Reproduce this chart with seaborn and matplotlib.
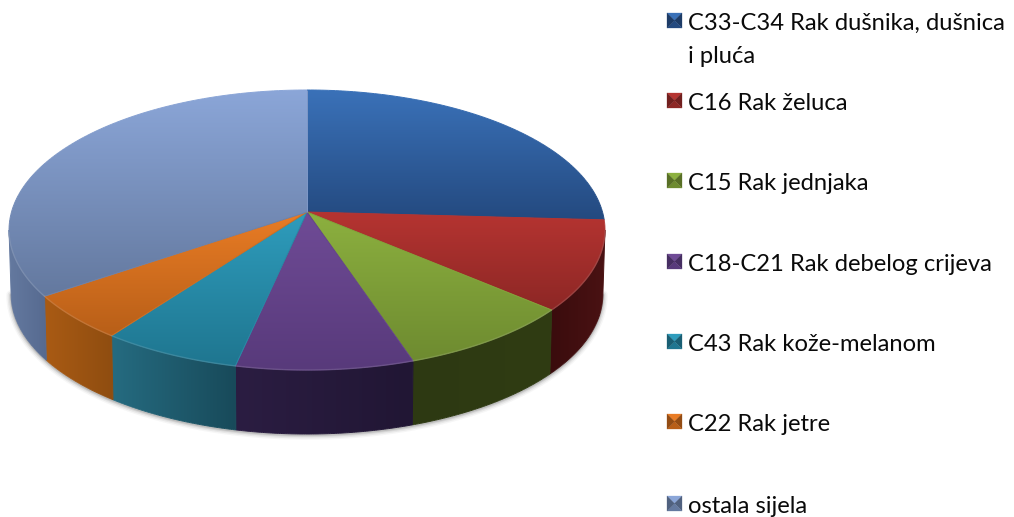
import matplotlib
matplotlib.use("Agg")

import numpy as np
import matplotlib.pyplot as plt
import seaborn as sns
from matplotlib.collections import LineCollection
from matplotlib.patches import Polygon

labels = [
    "C33-C34 Rak dušnika, dušnica\ni pluća",
    "C16 Rak želuca",
    "C15 Rak jednjaka",
    "C18-C21 Rak debelog crijeva",
    "C43 Rak kože-melanom",
    "C22 Rak jetre",
    "ostala sijela",
]
values = [25.9, 10.4, 8.6, 8.5, 6.7, 5.3, 34.6]

top_start = ["#3a71b8", "#b53431", "#8cb03f", "#6f4b96", "#2e9cbc", "#e97c25", "#8ba6d8"]
top_end = ["#244a80", "#8d2725", "#6e8b30", "#583a7b", "#1f7690", "#b85f18", "#64799f"]
wall_left = ["#1d3c68", "#3a0c0d", "#2d3912", "#2b1d42", "#256b80", "#aa5b14", "#64799f"]
wall_right = ["#1d3c68", "#4a1213", "#303c13", "#211634", "#184a5a", "#8f4d10", "#566a90"]

sns.set_theme(style="white")
plt.rcParams["font.family"] = ["Lato", "DejaVu Sans"]

# perspective of the pie disc, in pixels
cx, cy = 307, 212
sx, sy = 295.5, 137.7
k = 0.1286
depth = 64


def project(theta):
    u, v = np.sin(theta), -np.cos(theta)
    w = 1 - k * v
    return cx + sx * u / w, cy + sy * v / w


def gradient(ax, pts, start, end, horizontal=False):
    colors = np.array(sns.blend_palette([start, end], 64))
    img = colors[None, :, :] if horizontal else colors[:, None, :]
    x0, x1 = pts[:, 0].min(), pts[:, 0].max()
    y0, y1 = pts[:, 1].min(), pts[:, 1].max()
    im = ax.imshow(img, extent=(x0, x1, y1, y0), aspect="auto", interpolation="bilinear", zorder=3)
    clip = Polygon(pts, closed=True, fc="none", ec="none", transform=ax.transData)
    ax.add_patch(clip)
    im.set_clip_path(clip)

    # thin outline in the local gradient colour, hides the jagged clip edge
    closed = np.vstack([pts, pts[:1]])
    segs = np.stack([closed[:-1], closed[1:]], axis=1)
    axis = 0 if horizontal else 1
    pos = segs[:, :, axis].mean(axis=1)
    lo, hi = pts[:, axis].min(), pts[:, axis].max()
    idx = np.clip(((pos - lo) / max(hi - lo, 1) * 63).astype(int), 0, 63)
    ax.add_collection(LineCollection(segs, colors=colors[idx], linewidths=0.7, zorder=3))


fig = plt.figure(figsize=(10.14, 5.17), dpi=100)
ax = fig.add_axes([0, 0, 1, 1])

edges = np.radians(np.concatenate([[0], np.cumsum(values)]) / sum(values) * 360)
side = np.arccos(-k)

# soft shadow under the disc
t = np.linspace(side, 2 * np.pi - side, 300)
bx, by = project(t)
for lw, alpha in zip([7, 5, 3, 1.5], [0.04, 0.07, 0.1, 0.14]):
    ax.plot(cx + (bx - cx) * 0.993, by + depth + 1, color="#303030", lw=lw, alpha=alpha, zorder=1)

# side walls, only the part facing the viewer
for i in range(len(values)):
    a, b = max(edges[i], side), min(edges[i + 1], 2 * np.pi - side)
    if b <= a:
        continue
    t = np.linspace(a, b, 80)
    x, y = project(t)
    upper = np.column_stack([x, y])
    lower = np.column_stack([cx + (x - cx) * 0.993, y + depth])[::-1]
    gradient(ax, np.vstack([upper, lower]), wall_left[i], wall_right[i], horizontal=True)

# top surface
for i in range(len(values)):
    t = np.linspace(edges[i], edges[i + 1], 120)
    x, y = project(t)
    pts = np.vstack([[cx, cy], np.column_stack([x, y])])
    gradient(ax, pts, top_start[i], top_end[i])
    front = (t > side) & (t < 2 * np.pi - side)
    if front.any():
        ax.plot(x[front], y[front], color=sns.blend_palette([top_end[i], "#ffffff"], 5)[1],
                lw=1, alpha=0.5, zorder=4)

# legend
baselines = [30, 110, 190, 271, 351, 431, 513]
for i, label in enumerate(labels):
    base = baselines[i]
    for j, line in enumerate(label.split("\n")):
        ax.text(688, base + 33 * j, line, fontsize=17.1, color="#0a0a0a", va="baseline", ha="left", zorder=5)
    mx0, mx1 = 667, 682
    my0, my1 = base - 17, base - 2
    mcx, mcy = (mx0 + mx1) / 2, (my0 + my1) / 2
    corners = [(mx0, my0), (mx1, my0), (mx1, my1), (mx0, my1)]
    dark = sns.blend_palette([top_end[i], "#000000"], 6)[1]
    shades = [top_start[i], dark, top_end[i], dark]
    for c in range(4):
        tri = [corners[c], corners[(c + 1) % 4], (mcx, mcy)]
        ax.add_patch(Polygon(tri, closed=True, fc=shades[c], ec=shades[c], lw=0.2, zorder=5))

ax.set_xlim(0, 1014)
ax.set_ylim(517, 0)
ax.axis("off")
fig.savefig("out.png", dpi=100)
plt.close(fig)
